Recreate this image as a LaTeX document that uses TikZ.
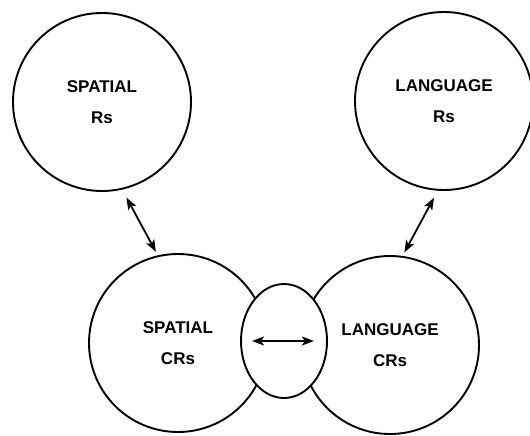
\documentclass[tikz,border=0pt]{standalone}
\usepackage{fontspec}
\setmainfont{Liberation Sans}
\usetikzlibrary{shapes.geometric,arrows.meta}
\begin{document}
\begin{tikzpicture}[x=1pt,y=-1pt,>={Stealth[length=12pt,width=9pt,inset=3pt]},
blob/.style={circle,draw=black,line width=1.9pt,fill=white,minimum size=178pt,inner sep=0pt,align=center,font=\fontsize{17}{31}\selectfont\bfseries},
link/.style={<->,black,line width=1.8pt}]

\useasboundingbox (0,0) rectangle (530,436);

\node (r1) at (102,102) [blob] {SPATIAL\\Rs};
\node (r2) at (444,101) [blob] {LANGUAGE\\Rs};

\node (c1) at (178,343) [blob] {SPATIAL\\CRs};
\node (c2) at (390,345) [blob] {LANGUAGE\\CRs};

\node (e) at (284,341) [ellipse,draw=black,line width=1.9pt,fill=white,minimum width=86pt,minimum height=114pt,inner sep=0pt] {};

\draw [link,shorten <=9pt,shorten >=4pt] (r1.-77.5) -- (c1.103);
\draw [link,shorten <=8pt,shorten >=4pt] (r2.-94) -- (c2.82);
\draw [link,shorten <=12pt,shorten >=14pt] (e.west) -- (e.east);

\end{tikzpicture}
\end{document}
